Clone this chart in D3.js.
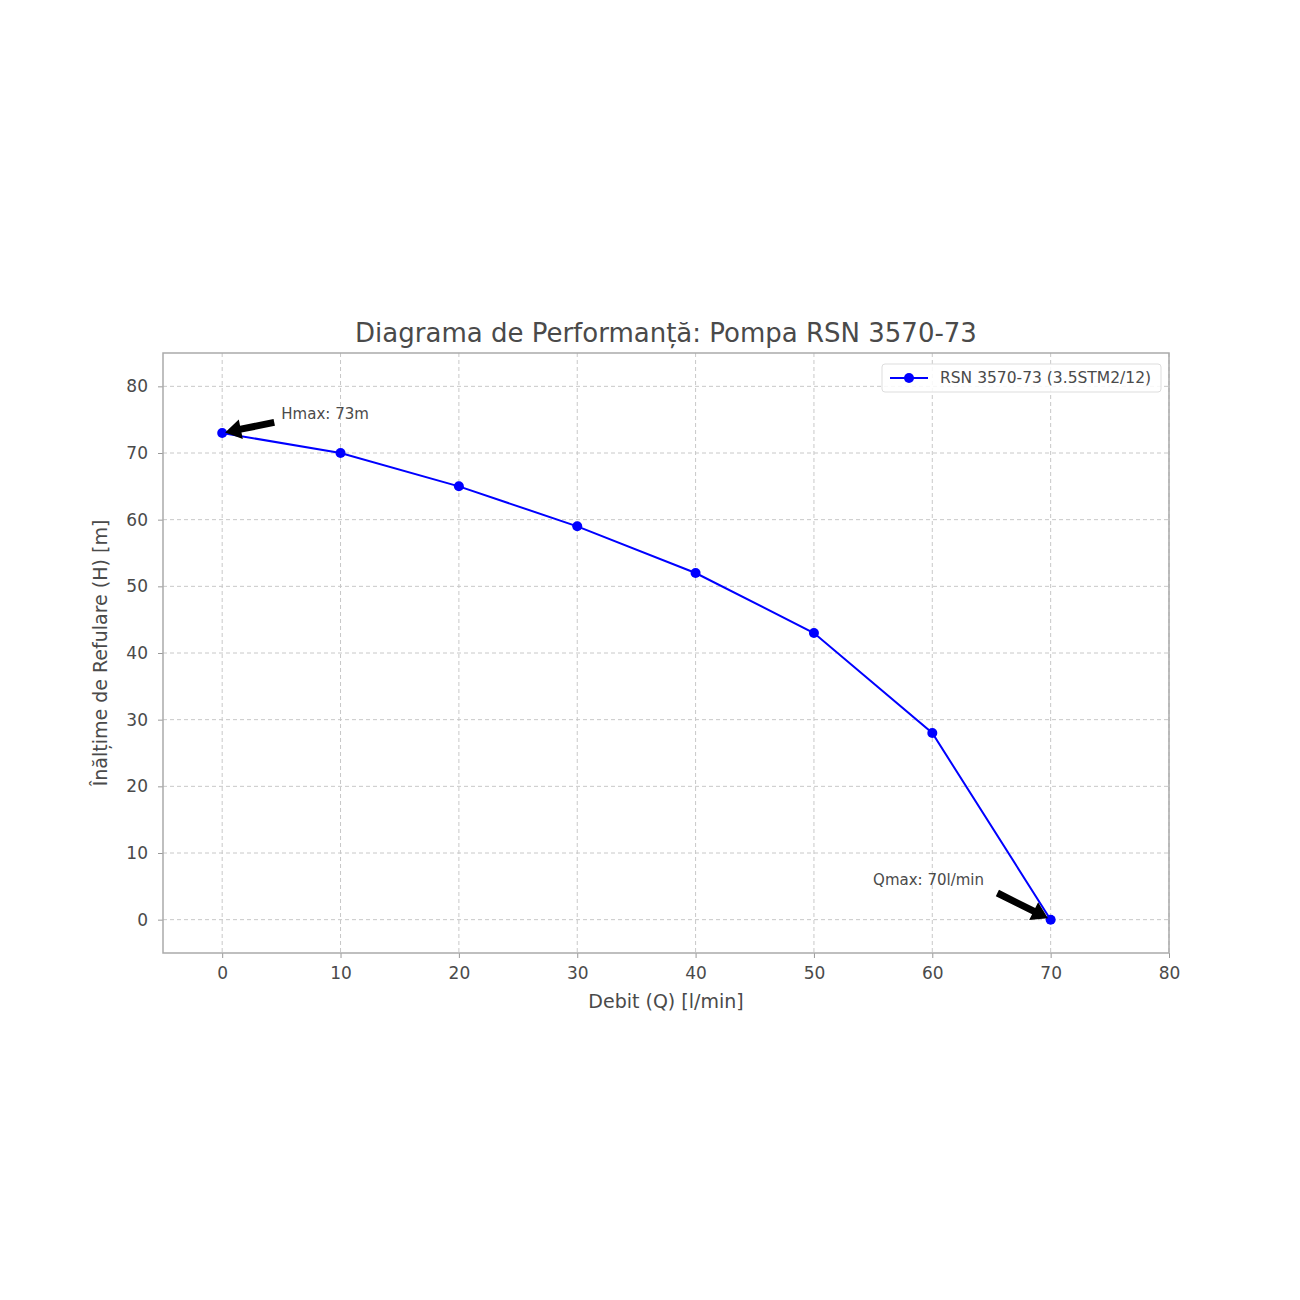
<!DOCTYPE html>
<html>
<head>
<meta charset="utf-8">
<script src="https://cdn.jsdelivr.net/npm/d3@7"></script>
<style>
  body { margin: 0; background: #fff; }
  svg text { font-family: "DejaVu Sans", "Noto Sans", sans-serif; fill: #4a4a4a; }
</style>
</head>
<body>
<div id="chart"></div>
<script>
// DATA
var flow = [0, 10, 20, 30, 40, 50, 60, 70];     // Debit Q [l/min]
var head = [73, 70, 65, 59, 52, 43, 28, 0];     // Inaltime H [m]
var xTicks = [0, 10, 20, 30, 40, 50, 60, 70, 80];
var yTicks = [0, 10, 20, 30, 40, 50, 60, 70, 80];
var seriesName = "RSN 3570-73 (3.5STM2/12)";
var notes = [
    { text: "Hmax: 73m", point: [0, 73], tail: [4.4, 74.6], label: [5, 75.9] },
    { text: "Qmax: 70l/min", point: [70, 0], tail: [65.5, 4], label: [55, 6] }
];

var svgW = 1300, svgH = 1300;
var margins = { top: 353, left: 163, right: 131, bottom: 347 };
var width = svgW - margins.left - margins.right;
var height = svgH - margins.top - margins.bottom;

var svg = d3.select("#chart")
    .append("svg")
        .attr("width", svgW)
        .attr("height", svgH);
var g = svg.append("g")
    .attr("transform", "translate(" + margins.left + "," + margins.top + ")");

var x = d3.scaleLinear().domain([-5, 80]).range([0, width]);
var y = d3.scaleLinear().domain([-5, 85]).range([height, 0]);

// Grid
g.append("g").selectAll("line")
    .data(xTicks)
    .enter().append("line")
        .attr("x1", d => x(d)).attr("x2", d => x(d))
        .attr("y1", 0).attr("y2", height)
        .attr("stroke", "#c8c8c8").attr("stroke-dasharray", "4,3");
g.append("g").selectAll("line")
    .data(yTicks)
    .enter().append("line")
        .attr("y1", d => y(d)).attr("y2", d => y(d))
        .attr("x1", 0).attr("x2", width)
        .attr("stroke", "#c8c8c8").attr("stroke-dasharray", "4,3");

// Axes
var xAxis = g.append("g")
    .attr("transform", "translate(0," + height + ")")
    .call(d3.axisBottom(x).tickValues(xTicks).tickSize(5).tickPadding(9));
var yAxis = g.append("g")
    .call(d3.axisLeft(y).tickValues(yTicks).tickSize(5).tickPadding(10));
[xAxis, yAxis].forEach(function(a) {
    a.select(".domain").remove();
    a.selectAll(".tick line").attr("stroke", "#999");
    a.selectAll(".tick text").style("font-size", "17px").attr("fill", "#4a4a4a");
});

// Frame
g.append("rect")
    .attr("width", width).attr("height", height)
    .attr("fill", "none").attr("stroke", "#aaa").attr("stroke-width", 1.5);

// Line + markers
var pts = flow.map((q, i) => ({ q: q, h: head[i] }));
g.append("path")
    .datum(pts)
    .attr("fill", "none")
    .attr("stroke", "#0000ff")
    .attr("stroke-width", 2)
    .attr("d", d3.line().x(d => x(d.q)).y(d => y(d.h)));
g.selectAll(".pt")
    .data(pts)
    .enter().append("circle")
        .attr("cx", d => x(d.q))
        .attr("cy", d => y(d.h))
        .attr("r", 5)
        .attr("fill", "#0000ff");

// Annotations (thick black arrows)
function arrowPath(x0, y0, x1, y1) {
    var dx = x1 - x0, dy = y1 - y0;
    var len = Math.sqrt(dx * dx + dy * dy);
    var ux = dx / len, uy = dy / len, px = -uy, py = ux;
    var hw = 3.5, headL = 16, headW = 10;
    var bx = x1 - ux * headL, by = y1 - uy * headL;
    var p = [
        [x0 + px * hw, y0 + py * hw], [bx + px * hw, by + py * hw],
        [bx + px * headW, by + py * headW], [x1, y1],
        [bx - px * headW, by - py * headW], [bx - px * hw, by - py * hw],
        [x0 - px * hw, y0 - py * hw]
    ];
    return "M" + p.map(c => c.join(",")).join("L") + "Z";
}
notes.forEach(function(n) {
    var x0 = x(n.tail[0]), y0 = y(n.tail[1]);
    var tx = x(n.point[0]), ty = y(n.point[1]);
    // stop short of the point a bit
    var dx = tx - x0, dy = ty - y0, len = Math.sqrt(dx * dx + dy * dy);
    var x1 = tx - dx / len * 3, y1 = ty - dy / len * 3;
    g.append("path")
        .attr("d", arrowPath(x0, y0, x1, y1))
        .attr("fill", "#000");
    g.append("text")
        .attr("x", x(n.label[0]))
        .attr("y", y(n.label[1]))
        .attr("dy", "0.35em")
        .style("font-size", "15px")
        .text(n.text);
});

// Legend
var leg = g.append("g").attr("transform", "translate(" + (width - 287) + ",11)");
leg.append("rect")
    .attr("width", 279).attr("height", 28).attr("rx", 3)
    .attr("fill", "#fff").attr("fill-opacity", 0.85)
    .attr("stroke", "#ddd");
leg.append("line")
    .attr("x1", 8).attr("x2", 46).attr("y1", 14).attr("y2", 14)
    .attr("stroke", "#0000ff").attr("stroke-width", 2);
leg.append("circle").attr("cx", 27).attr("cy", 14).attr("r", 5).attr("fill", "#0000ff");
leg.append("text")
    .attr("x", 58).attr("y", 14).attr("dy", "0.35em")
    .style("font-size", "15.5px")
    .text(seriesName);

// Title and labels
g.append("text")
    .attr("x", width / 2).attr("y", -11)
    .attr("text-anchor", "middle")
    .style("font-size", "26px")
    .attr("fill", "#333")
    .text("Diagrama de Performanță: Pompa RSN 3570-73");
g.append("text")
    .attr("x", width / 2).attr("y", height + 55)
    .attr("text-anchor", "middle")
    .style("font-size", "19px")
    .text("Debit (Q) [l/min]");
g.append("text")
    .attr("transform", "translate(-56," + (height / 2) + ") rotate(-90)")
    .attr("text-anchor", "middle")
    .style("font-size", "19px")
    .text("Înălțime de Refulare (H) [m]");
</script>
</body>
</html>
